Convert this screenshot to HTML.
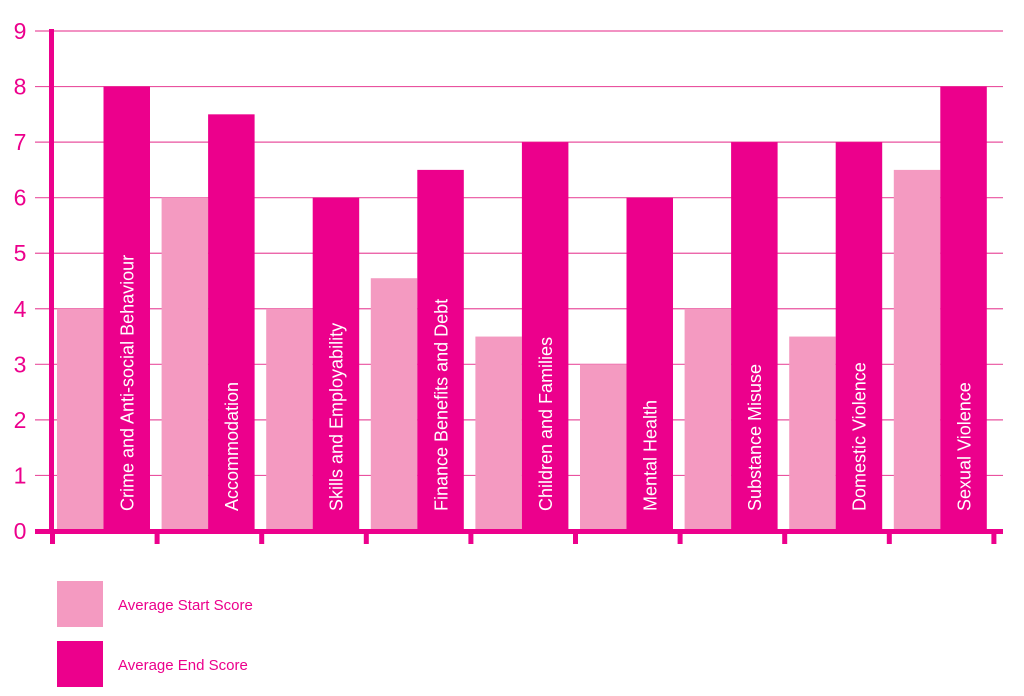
<!DOCTYPE html>
<html><head><meta charset="utf-8"><style>
body{margin:0;background:#fff;width:1024px;height:696px;overflow:hidden}
svg{display:block;font-family:"Liberation Sans",sans-serif}
</style></head><body>
<svg id="chart" width="1024" height="696" viewBox="0 0 1024 696" xmlns="http://www.w3.org/2000/svg"></svg>
<script>
const categories=["Crime and Anti-social Behaviour","Accommodation","Skills and Employability","Finance Benefits and Debt","Children and Families","Mental Health","Substance Misuse","Domestic Violence","Sexual Violence"];
const startScores=[4,6,4,4.55,3.5,3,4,3.5,6.5];
const endScores=[8,7.5,6,6.5,7,6,7,7,8];
const yTicks=[0,1,2,3,4,5,6,7,8,9];
const NS="http://www.w3.org/2000/svg";
const svg=document.getElementById('chart');
const x0=52,gw=104.6,y0=531,yTop=31,yMax=9;
function y(v){return y0-(v/yMax)*(y0-yTop);}
function gx(i){return x0+i*gw;}
function mk(t,a){const e=document.createElementNS(NS,t);for(const k in a)e.setAttribute(k,a[k]);svg.appendChild(e);return e;}
const DARK="#ec008c",LIGHT="#f49ac1";
yTicks.forEach(v=>{
 if(v>0){const l=mk('line',{x1:35,x2:1003,y1:y(v),y2:y(v),stroke:"#e9529f","stroke-width":1.2});
 
 }
 const t=mk('text',{x:20,y:y(v)+8,"text-anchor":"middle","font-size":23,fill:DARK});
 t.textContent=v;
 
 
});
categories.forEach((c,i)=>{
 const b1=mk('rect',{x:gx(i)+5,y:y(startScores[i]),width:46.5,height:y0-y(startScores[i]),fill:LIGHT});
 
 
 const b2=mk('rect',{x:gx(i)+51.5,y:y(endScores[i]),width:46.5,height:y0-y(endScores[i]),fill:DARK});
 
 
 const cx=gx(i)+75,by=511;
 const t=mk('text',{x:cx,y:by,transform:`rotate(-90 ${cx} ${by})`,"font-size":18,fill:"#fff",dy:6.5});
 t.textContent=c;
 
 
});
for(let i=0;i<=9;i++){
 const tk=mk('rect',{x:gx(i)-2,y:y0,width:5,height:13,fill:DARK});
 
 
}
const ya=mk('rect',{x:49,y:29,width:5,height:y0-27,fill:DARK});


const xa=mk('rect',{x:35,y:y0-2,width:968,height:5,fill:DARK});


const lg=[["Average Start Score",LIGHT,581],["Average End Score",DARK,641]];
lg.forEach((e,i)=>{
 const r=mk('rect',{x:57,y:e[2],width:46,height:46,fill:e[1]});
 
 
 const t=mk('text',{x:118,y:e[2]+29,"font-size":15,fill:DARK});
 t.textContent=e[0];
 
 
});
</script>
</body></html>
